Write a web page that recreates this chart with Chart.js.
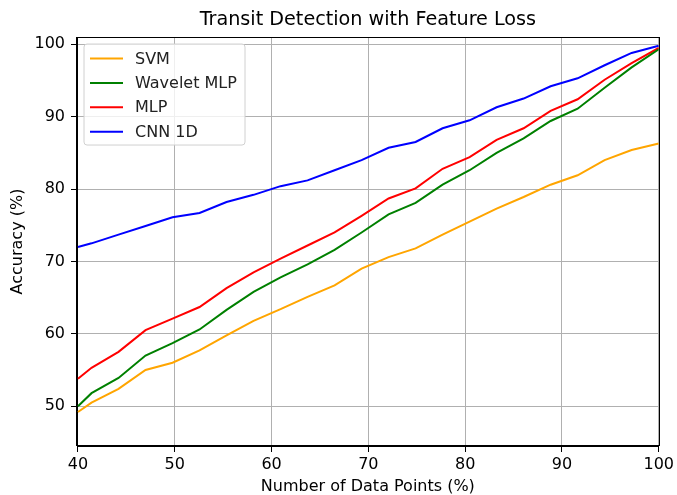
<!DOCTYPE html>
<html>
<head>
<meta charset="utf-8">
<script src="https://cdn.jsdelivr.net/npm/chart.js@4/dist/chart.umd.min.js"></script>
<style>
  html, body { margin: 0; padding: 0; background: #ffffff; }
  #wrap { width: 677px; height: 495px; }
</style>
</head>
<body>
<div id="wrap"><canvas id="c" width="677" height="495"></canvas></div>
<script>
// ---- data ----
const xValues = [40, 41.4, 44.19, 46.98, 49.77, 52.56, 55.35, 58.14, 60.93, 63.72, 66.51, 69.3, 72.09, 74.88, 77.67, 80.46, 83.25, 86.04, 88.83, 91.62, 94.41, 97.2, 100];
const svm        = [49.2, 50.5, 52.4, 55.0, 56.0, 57.7, 59.8, 61.8, 63.4, 65.1, 66.7, 69.0, 70.6, 71.8, 73.7, 75.5, 77.3, 78.9, 80.6, 81.9, 84.0, 85.4, 86.3];
const waveletMlp = [50.0, 51.8, 53.9, 57.0, 58.7, 60.6, 63.3, 65.8, 67.8, 69.6, 71.6, 74.0, 76.5, 78.1, 80.6, 82.6, 85.0, 87.0, 89.4, 91.1, 94.0, 96.8, 99.3];
const mlp        = [53.8, 55.3, 57.5, 60.5, 62.1, 63.7, 66.3, 68.5, 70.4, 72.2, 74.0, 76.3, 78.7, 80.1, 82.8, 84.4, 86.8, 88.4, 90.8, 92.4, 95.1, 97.4, 99.5];
const cnn1d      = [72.0, 72.5, 73.7, 74.9, 76.1, 76.7, 78.2, 79.2, 80.4, 81.2, 82.6, 84.0, 85.7, 86.5, 88.4, 89.5, 91.3, 92.5, 94.2, 95.3, 97.1, 98.8, 99.8];
const seriesNames = ['SVM', 'Wavelet MLP', 'MLP', 'CNN 1D'];
const xTicks = [40, 50, 60, 70, 80, 90, 100];
const yTicks = [50, 60, 70, 80, 90, 100];
const titleText = 'Transit Detection with Feature Loss';
const xTitle = 'Number of Data Points (%)';
const yTitle = 'Accuracy (%)';

const FONT = "'DejaVu Sans', sans-serif";
const colors = ['#FFA500', '#008000', '#FF0000', '#0000FF'];
const seriesData = [svm, waveletMlp, mlp, cnn1d];

const datasets = seriesData.map((vals, i) => ({
  label: seriesNames[i],
  data: xValues.map((x, j) => ({ x: x, y: vals[j] })),
  borderColor: colors[i],
  backgroundColor: colors[i],
  borderWidth: 2,
  pointRadius: 0,
  tension: 0,
  fill: false
}));

// frame (top/right spines)
const framePlugin = {
  id: 'frame',
  afterDatasetsDraw(chart) {
    const { ctx, chartArea: a } = chart;
    ctx.save();
    ctx.strokeStyle = '#000000';
    ctx.lineWidth = 1;
    ctx.strokeRect(Math.round(a.left) - 0.5, Math.round(a.top) + 0.5, Math.round(a.right - a.left) + 1, Math.round(a.bottom - a.top) - 1);
    ctx.restore();
  }
};

// legend drawn inside the plot area, upper left
const legendPlugin = {
  id: 'innerLegend',
  afterDraw(chart) {
    const { ctx, chartArea: a } = chart;
    const ds = chart.data.datasets;
    const x0 = a.left + 7, y0 = a.top + 7;
    const w = 161, rowH = 24.4;
    const h = 101;
    ctx.save();
    const r = 3;
    ctx.beginPath();
    ctx.moveTo(x0 + r, y0);
    ctx.lineTo(x0 + w - r, y0);
    ctx.quadraticCurveTo(x0 + w, y0, x0 + w, y0 + r);
    ctx.lineTo(x0 + w, y0 + h - r);
    ctx.quadraticCurveTo(x0 + w, y0 + h, x0 + w - r, y0 + h);
    ctx.lineTo(x0 + r, y0 + h);
    ctx.quadraticCurveTo(x0, y0 + h, x0, y0 + h - r);
    ctx.lineTo(x0, y0 + r);
    ctx.quadraticCurveTo(x0, y0, x0 + r, y0);
    ctx.closePath();
    ctx.fillStyle = 'rgba(255,255,255,0.8)';
    ctx.fill();
    ctx.strokeStyle = '#d0d0d0';
    ctx.lineWidth = 1;
    ctx.stroke();
    ctx.font = '16px ' + FONT;
    ctx.textBaseline = 'middle';
    ds.forEach((d, i) => {
      const yy = y0 + 14.5 + i * rowH;
      ctx.strokeStyle = d.borderColor;
      ctx.lineWidth = 2;
      ctx.beginPath();
      ctx.moveTo(x0 + 6, yy);
      ctx.lineTo(x0 + 39, yy);
      ctx.stroke();
      ctx.fillStyle = '#222222';
      ctx.fillText(d.label, x0 + 51, yy + 1);
    });
    ctx.restore();
  }
};

new Chart(document.getElementById('c'), {
  type: 'line',
  data: { datasets },
  plugins: [framePlugin, legendPlugin],
  options: {
    responsive: false,
    animation: false,
    devicePixelRatio: 1,
    layout: { padding: { left: 0, right: 17, top: 0, bottom: 0 } },
    plugins: {
      legend: { display: false },
      tooltip: { enabled: false },
      title: {
        display: true,
        fullSize: false,
        text: titleText,
        color: '#000000',
        font: { family: FONT, size: 19.2, weight: 'normal', lineHeight: 1.2 },
        padding: { top: 8.5, bottom: 5.5 }
      }
    },
    scales: {
      x: {
        type: 'linear',
        min: 39.9,
        max: 100,
        afterBuildTicks(scale) { scale.ticks = xTicks.map(v => ({ value: v })); },
        afterFit(scale) { scale.height = 49; },
        grid: { color: '#b0b0b0', lineWidth: 1, tickColor: '#000000', tickLength: 6, drawTicks: true },
        border: { display: true, color: '#000000', width: 1 },
        ticks: { color: '#000000', font: { family: FONT, size: 16 }, padding: 3, maxRotation: 0 },
        title: { display: true, text: xTitle, color: '#000000', font: { family: FONT, size: 16, lineHeight: 1.0 }, padding: { top: 1, bottom: 0 } }
      },
      y: {
        type: 'linear',
        min: 44.5,
        max: 101,
        afterBuildTicks(scale) { scale.ticks = yTicks.map(v => ({ value: v })); },
        afterFit(scale) { scale.width = 77; },
        grid: { color: '#b0b0b0', lineWidth: 1, tickColor: '#000000', tickLength: 6, drawTicks: true },
        border: { display: true, color: '#000000', width: 1 },
        ticks: { color: '#000000', font: { family: FONT, size: 16 }, padding: 6 },
        title: { display: true, text: yTitle, color: '#000000', font: { family: FONT, size: 16 }, padding: { top: 8, bottom: 4 } }
      }
    }
  }
});
</script>
</body>
</html>
